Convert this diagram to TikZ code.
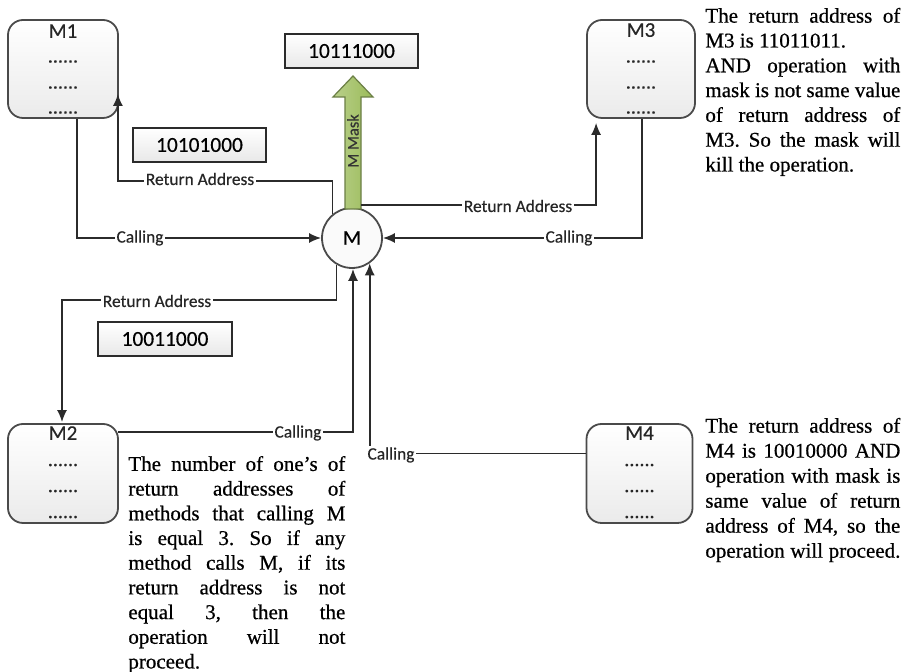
\documentclass[tikz,border=0pt]{standalone}
\usepackage{fontspec}
\setmainfont[FakeBold=0.6]{Liberation Serif}
\newfontfamily\carl[FakeBold=0.4]{Carlito}
\usetikzlibrary{arrows.meta,calc}
\definecolor{lineC}{HTML}{2B2B2B}
\definecolor{boxC}{HTML}{4A4A4A}
\definecolor{maskG}{HTML}{9BBB59}
\definecolor{maskB}{HTML}{6B7F45}
\newcommand\jthree[1]{\makebox[97.5pt][s]{#1}}
\newcommand\jtwo[1]{\makebox[108.5pt][s]{#1}}
\frenchspacing
\begin{document}
\begin{tikzpicture}[x=0.5pt,y=-0.5pt,
  mbox/.style={draw=boxC, line width=0.9pt, rounded corners=7.5pt, top color=white, bottom color=gray!16, minimum height=49pt, inner sep=0pt},
  nbox/.style={draw=lineC, line width=0.7pt, top color=white, bottom color=gray!18, minimum width=66.5pt, minimum height=17pt, inner sep=0pt, font=\carl\fontsize{10.7}{12}\selectfont},
  mname/.style={font=\carl\fontsize{10.5}{12}\selectfont, inner sep=0pt, text=black!85},
  dots/.style={font=\carl\fontsize{10}{12}\selectfont, inner sep=0pt, anchor=base, text=black!85},
  conn/.style={draw=lineC, line width=0.8pt, -{Latex[length=6pt,width=5pt]}},
  lbl/.style={font=\carl\fontsize{8.7}{10}\selectfont, fill=white, inner xsep=1pt, inner ysep=0.5pt, text=black!85},
  desc/.style={anchor=north west, inner sep=0pt, align=left},
]
\fill[white] (0,0) rectangle (916,672);
\useasboundingbox (0,0) rectangle (916,672);

% method boxes
\node[mbox, minimum width=55pt] (M1) at (63,69) {};
\node[mbox, minimum width=54pt] (M3) at (641,69) {};
\node[mbox, minimum width=55pt, minimum height=49.5pt] (M2) at (63,473.5) {};
\node[mbox, minimum width=53pt, minimum height=49.5pt] (M4) at (639.5,473.5) {};

\node[mname] (M1t) at ($(M1.north)+(0,12)$) {M1};
\node[dots] (M1a) at ($(M1.north)+(0,43.5)$) {......};
\node[dots] (M1b) at ($(M1.north)+(0,69.5)$) {......};
\node[dots] (M1c) at ($(M1.north)+(0,94.5)$) {......};

\node[mname] (M3t) at ($(M3.north)+(0,11)$) {M3};
\node[dots] (M3a) at ($(M3.north)+(0,43.5)$) {......};
\node[dots] (M3b) at ($(M3.north)+(0,69.5)$) {......};
\node[dots] (M3c) at ($(M3.north)+(0,94.5)$) {......};

\node[mname] (M2t) at ($(M2.north)+(0,10)$) {M2};
\node[dots] (M2a) at ($(M2.north)+(0,43)$) {......};
\node[dots] (M2b) at ($(M2.north)+(0,69)$) {......};
\node[dots] (M2c) at ($(M2.north)+(0,95)$) {......};

\node[mname] (M4t) at ($(M4.north)+(0,10)$) {M4};
\node[dots] (M4a) at ($(M4.north)+(0,43)$) {......};
\node[dots] (M4b) at ($(M4.north)+(0,69)$) {......};
\node[dots] (M4c) at ($(M4.north)+(0,95)$) {......};

% central method
\node[draw=boxC, circle, minimum size=30pt, inner sep=0pt, line width=0.9pt, fill=gray!4, font=\carl\fontsize{10.5}{12}\selectfont] (M) at (352,238) {M};

% mask arrow
\draw[draw=maskB, line width=0.6pt, left color=maskG!70!white, right color=maskG]
  (345,209) -- (345,97) -- (333,97) -- (353,76) -- (373,97) -- (361,97) -- (361,209) -- cycle;
\node[rotate=90, font=\carl\fontsize{8.2}{10}\selectfont, inner sep=0pt, text=black!80] (mask) at (353,141) {M Mask};

% number boxes
\node[nbox] (N1) at (351.5,51) {10111000};
\node[nbox] (N2) at (199.5,145) {10101000};
\node[nbox, minimum width=67pt] (N3) at (165,339) {10011000};

% connectors
\draw[conn] (M.129) |- ($(M1.south east)+(-1,62)$) -- ($(M1.south east)+(-1,-25)$);
\draw[conn] ($(M1.south west)+(70,0)$) |- (M.west);
\draw[conn] ($(M.north)+(9,-2)$) -| ($(M3.south west)+(10,4)$);
\draw[conn] ($(M3.south west)+(56,0)$) |- (M.east);
\draw[conn] (M.240) |- ($(M2.north)+(-1,-123)$) -- ($(M2.north)+(-1,-1)$);
\draw[conn] ($(M2.north east)+(-1,9)$) -| ($(M.south)+(1,0)$);
\draw[conn] ($(M4.west)+(0,-20)$) -| (M.-55);

% connector labels
\node[lbl] (l1) at (200,179) {Return Address};
\node[lbl] (l2) at (140,238) {Calling};
\node[lbl] (l3) at (518,206) {Return Address};
\node[lbl] (l4) at (569,238) {Calling};
\node[lbl] (l5) at (157,301) {Return Address};
\node[lbl] (l6) at (298,433) {Calling};
\node[lbl] (l7) at (391,455) {Calling};

% descriptions
\node[desc, font=\fontsize{10.5}{12.4}\selectfont] (t3) at (705,7.5) {%
\jthree{The return address of}\\
M3 is 11011011.\\
\jthree{AND operation with}\\
\jthree{mask is not same value}\\
\jthree{of return address of}\\
\jthree{M3. So the mask will}\\
kill the operation.};

\node[desc, font=\fontsize{10.5}{12.5}\selectfont] (t4) at (705,417.5) {%
\jthree{The return address of}\\
\jthree{M4 is 10010000 AND}\\
\jthree{operation with mask is}\\
\jthree{same value of return}\\
\jthree{address of M4, so the}\\
\jthree{operation will proceed.}};

\node[desc, font=\fontsize{10.5}{12.35}\selectfont] (t2) at (128,455.7) {%
\jtwo{The number of one's of}\\
\jtwo{return addresses of}\\
\jtwo{methods that calling M}\\
\jtwo{is equal 3. So if any}\\
\jtwo{method calls M, if its}\\
\jtwo{return address is not}\\
\jtwo{equal 3, then the}\\
\jtwo{operation will not}\\
proceed.};
\end{tikzpicture}
\end{document}
